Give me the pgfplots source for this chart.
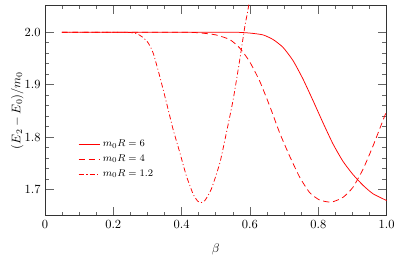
\documentclass[border=0pt]{standalone}
\usepackage{pgfplots}
\pgfplotsset{compat=1.18}

\begin{document}
\begin{tikzpicture}
\useasboundingbox (-36pt,-37.7pt) rectangle (283.9pt,173pt);
\begin{axis}[
  scale only axis,
  width=274pt, height=169pt,
  xmin=0, xmax=1, ymin=1.65, ymax=2.052,
  xtick={0,0.2,0.4,0.6,0.8,1.0},
  xticklabels={0,0.2,0.4,0.6,0.8,1.0},
  ytick={1.7,1.8,1.9,2.0},
  yticklabels={1.7,1.8,1.9,2.0},
  minor x tick num=3, minor y tick num=4,
  tick align=inside,
  major tick length=7pt, minor tick length=3.4pt,
  every tick/.style={black!60, line width=0.5pt},
  axis line style={line width=0.6pt, black!80},
  xlabel={$\beta$}, ylabel={$(E_2-E_0)/m_0$},
  xlabel style={at={(axis description cs:0.5,-0.16)}, anchor=center},
  ylabel style={at={(axis description cs:-0.081,0.5)}, anchor=center},
  legend style={at={(axis cs:0.097,1.80)}, anchor=north west, draw=none, fill=none,
                font=\footnotesize, row sep=1pt, inner sep=0pt},
  legend cell align=left,
  clip=true,
]
\addplot[red, line width=0.6pt, smooth, tension=0.35] coordinates {
  (0.05,2.0) (0.3,2.0) (0.5,2.0) (0.56,2.0) (0.599,1.9985) (0.638,1.995) (0.668,1.986)
  (0.697,1.971) (0.726,1.946) (0.755,1.911) (0.785,1.869) (0.814,1.827)
  (0.843,1.787) (0.872,1.754) (0.901,1.729) (0.931,1.708) (0.960,1.692)
  (1.0,1.679)};
\addplot[red, line width=0.6pt, dash pattern=on 5pt off 3pt, smooth, tension=0.35] coordinates {
  (0.05,2.0) (0.25,2.0) (0.40,2.0) (0.45,1.999) (0.50,1.995) (0.541,1.986)
  (0.570,1.970) (0.599,1.944) (0.629,1.906) (0.658,1.859) (0.687,1.808)
  (0.716,1.764) (0.746,1.723) (0.775,1.694) (0.804,1.680) (0.838,1.676)
  (0.872,1.685) (0.901,1.704) (0.931,1.739) (0.960,1.783) (0.994,1.840)
  (1.0,1.850)};
\addplot[red, line width=0.6pt, dash pattern=on 4pt off 2pt on 0.8pt off 2pt, smooth, tension=0.35] coordinates {
  (0.05,2.0) (0.15,2.0) (0.22,2.0) (0.25,1.9995) (0.27,1.997) (0.285,1.991)
  (0.302,1.980) (0.317,1.960) (0.336,1.916) (0.356,1.865) (0.375,1.815)
  (0.395,1.770) (0.414,1.726) (0.434,1.691) (0.447,1.678) (0.456,1.675)
  (0.468,1.679) (0.487,1.701) (0.512,1.751) (0.531,1.808) (0.551,1.872)
  (0.570,1.947) (0.585,2.011) (0.592,2.035) (0.600,2.065)};
\legend{$m_0R=6$, $m_0R=4$, $m_0R=1.2$}
\end{axis}
\end{tikzpicture}
\end{document}
